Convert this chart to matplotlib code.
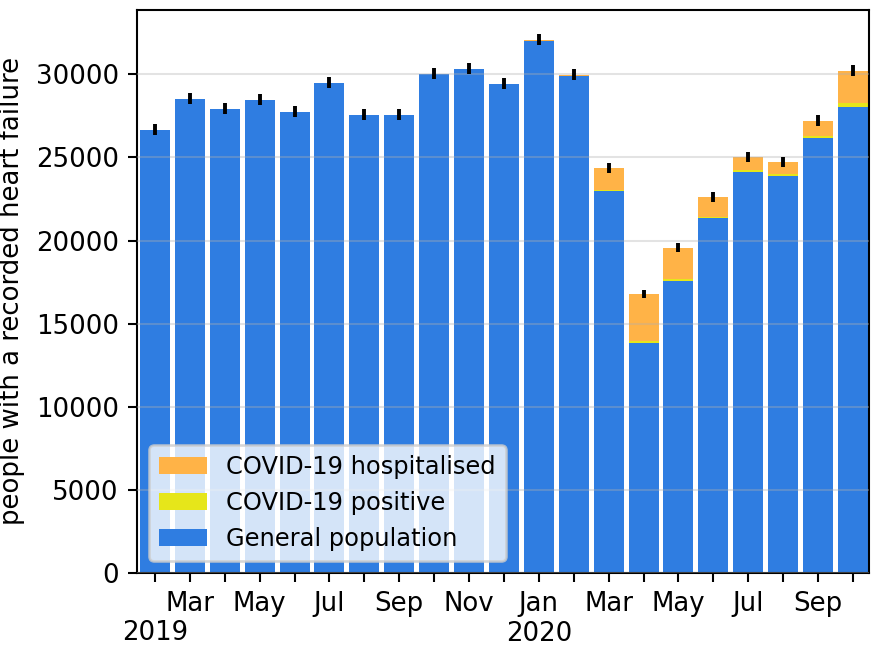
import matplotlib
matplotlib.use("Agg")
import matplotlib.pyplot as plt
import numpy as np

# x tick labels (one per monthly bar, Feb 2019 .. Oct 2020)
tick_labels = ["2019", "Mar", "", "May", "", "Jul", "", "Sep", "", "Nov", "",
               "Jan\n2020", "", "Mar", "", "May", "", "Jul", "", "Sep", ""]

general = [26670, 28540, 27930, 28480, 27750, 29500, 27570, 27570, 30040, 30340, 29440,
           32010, 29880, 23000, 13860, 17580, 21370, 24140, 23900, 26190, 28010]
positive = [0, 0, 0, 0, 0, 0, 0, 0, 0, 0, 0,
            0, 0, 60, 120, 120, 60, 120, 120, 120, 280]
hospitalised = [0, 0, 0, 0, 0, 0, 0, 0, 0, 0, 0,
                80, 100, 1320, 2810, 1870, 1200, 780, 720, 900, 1930]
errors = [320, 330, 330, 330, 325, 335, 325, 325, 340, 340, 335,
          350, 340, 305, 255, 275, 295, 310, 310, 325, 340]

c_gen = "#2f7de1"
c_pos = "#e6e61a"
c_hosp = "#ffb347"

DPI = 187
fig = plt.figure(figsize=(884 / DPI, 647 / DPI), dpi=DPI)
ax = fig.add_axes([137 / 884, 1 - 573 / 647, (869 - 137) / 884, (573 - 9.5) / 647])

x = np.arange(len(general))
g = np.array(general, dtype=float)
p = np.array(positive, dtype=float)
h = np.array(hospitalised, dtype=float)
w = 0.86

ax.bar(x, g, width=w, color=c_gen, label="General population", linewidth=0)
ax.bar(x, p, width=w, bottom=g, color=c_pos, label="COVID-19 positive", linewidth=0)
ax.bar(x, h, width=w, bottom=g + p, color=c_hosp, label="COVID-19 hospitalised", linewidth=0)
ax.errorbar(x, g + p + h, yerr=errors, fmt="none", ecolor="black", elinewidth=1.5, capsize=0, zorder=3)

ax.set_axisbelow(False)
ax.grid(axis="y", color="#b0b0b0", alpha=0.35, linewidth=0.8)
ax.grid(axis="x", visible=False)

ax.set_xlim(-0.516, 20.46)
ax.set_ylim(0, 33900)
ax.set_xticks(x)
ax.set_xticklabels(tick_labels)
# year label of the first tick sits on the second line
ax.xaxis.get_major_ticks()[0].set_pad(3.5 + 11.0)
ax.set_yticks([0, 5000, 10000, 15000, 20000, 25000, 30000])
ax.set_ylabel("people with a recorded heart failure")

handles, labels = ax.get_legend_handles_labels()
ax.legend(handles[::-1], labels[::-1], loc="lower left", fontsize=9.3)

fig.savefig("out.png", dpi=DPI)
